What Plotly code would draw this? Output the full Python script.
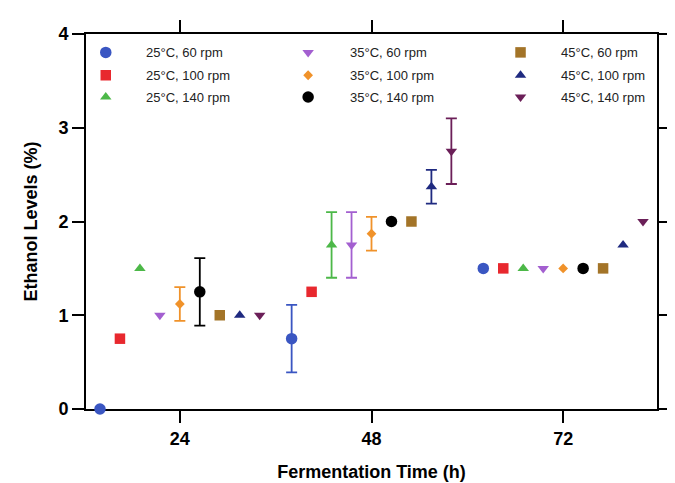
import plotly.graph_objects as go

# ---- data ----
times = [24, 48, 72]
series_names = ["25°C, 60 rpm", "25°C, 100 rpm", "25°C, 140 rpm",
                "35°C, 60 rpm", "35°C, 100 rpm", "35°C, 140 rpm",
                "45°C, 60 rpm", "45°C, 100 rpm", "45°C, 140 rpm"]
ethanol_25_60 = [0.0, 0.75, 1.5]
ethanol_25_100 = [0.75, 1.25, 1.5]
ethanol_25_140 = [1.5, 1.75, 1.5]
ethanol_35_60 = [1.0, 1.75, 1.5]
ethanol_35_100 = [1.12, 1.87, 1.5]
ethanol_35_140 = [1.25, 2.0, 1.5]
ethanol_45_60 = [1.0, 2.0, 1.5]
ethanol_45_100 = [1.0, 2.37, 1.75]
ethanol_45_140 = [1.0, 2.75, 2.0]
err_25_60 = [None, 0.36, None]
err_25_100 = [None, None, None]
err_25_140 = [None, 0.35, None]
err_35_60 = [None, 0.35, None]
err_35_100 = [0.18, 0.18, None]
err_35_140 = [0.36, None, None]
err_45_60 = [None, None, None]
err_45_100 = [None, 0.18, None]
err_45_140 = [None, 0.35, None]

values = [ethanol_25_60, ethanol_25_100, ethanol_25_140,
          ethanol_35_60, ethanol_35_100, ethanol_35_140,
          ethanol_45_60, ethanol_45_100, ethanol_45_140]
errors = [err_25_60, err_25_100, err_25_140,
          err_35_60, err_35_100, err_35_140,
          err_45_60, err_45_100, err_45_140]

# ---- styles ----
colors = ["#3a56c2", "#e8282e", "#4cb848", "#a35fd0", "#f0922a",
          "#000000", "#a37428", "#1f2a80", "#6b1f58"]
symbols = ["circle", "square", "triangle-up", "triangle-down", "diamond",
           "circle", "square", "triangle-up", "triangle-down"]
sizes = [11.5, 10.5, 10, 10, 7.5, 11.5, 10.5, 10, 10]
dodge = 2.5
FONT = "Arial, Liberation Sans, Helvetica, sans-serif"

fig = go.Figure()
for i, (name, vals, errs) in enumerate(zip(series_names, values, errors)):
    xs = [t + (i - 4) * dodge for t in times]
    # error bars only where an error value exists
    ex = [x for x, e in zip(xs, errs) if e is not None]
    ey = [v for v, e in zip(vals, errs) if e is not None]
    ee = [e for e in errs if e is not None]
    if ee:
        fig.add_trace(go.Scatter(
            x=ex, y=ey, mode="markers", showlegend=False, hoverinfo="skip",
            cliponaxis=False, marker=dict(size=1, opacity=0, color=colors[i]),
            error_y=dict(type="data", array=ee, visible=True, color=colors[i],
                         thickness=1.8, width=5.5),
        ))
    fig.add_trace(go.Scatter(
        x=xs, y=vals, mode="markers", name=name, showlegend=False,
        cliponaxis=False,
        marker=dict(symbol=symbols[i], size=sizes[i], color=colors[i],
                    opacity=1, line=dict(width=0)),
    ))

# ---- manual legend (3 columns x 3 rows, column-major) ----
col_marker_x = [0.0346, 0.389, 0.761]
col_text_x = [0.102, 0.4585, 0.8287]
row_y = [0.951, 0.890, 0.832]
lx, ly = [], []
for i, name in enumerate(series_names):
    c, r = i // 3, i % 3
    lx.append(col_marker_x[c])
    ly.append(row_y[r])
    fig.add_annotation(x=col_text_x[c], y=row_y[r], xref="paper", yref="paper",
                       text=name, showarrow=False, xanchor="left", yanchor="middle",
                       font=dict(family=FONT, size=13, color="#222222"))
fig.add_trace(go.Scatter(
    x=lx, y=ly, xaxis="x2", yaxis="y2", mode="markers", showlegend=False,
    hoverinfo="skip", cliponaxis=False,
    marker=dict(symbol=symbols, size=sizes, color=colors, opacity=1, line=dict(width=0)),
))

axis_common = dict(showgrid=False, zeroline=False, showline=True, linecolor="black",
                   linewidth=2, ticks="outside", ticklen=12, tickwidth=2,
                   tickcolor="black", mirror="allticks", layer="below traces",
                   tickfont=dict(family=FONT, size=18, color="black", weight="bold"))

fig.update_layout(
    width=675, height=483,
    margin=dict(l=78, r=19, t=24, b=72),
    paper_bgcolor="white", plot_bgcolor="white",
    showlegend=False,
    xaxis=dict(range=[12.25, 83.75], tickvals=times, ticktext=[str(t) for t in times],
               title=dict(text="<b>Fermentation Time (h)</b>", standoff=18,
                          font=dict(family=FONT, size=18, color="black")),
               **axis_common),
    yaxis=dict(range=[0, 4], tickvals=[0, 1, 2, 3, 4],
               title=dict(text="<b>Ethanol Levels (%)</b>", standoff=16,
                          font=dict(family=FONT, size=18, color="black")),
               **axis_common),
    xaxis2=dict(overlaying="x", range=[0, 1], visible=False),
    yaxis2=dict(overlaying="y", range=[0, 1], visible=False),
)

fig.write_html("out.html")
